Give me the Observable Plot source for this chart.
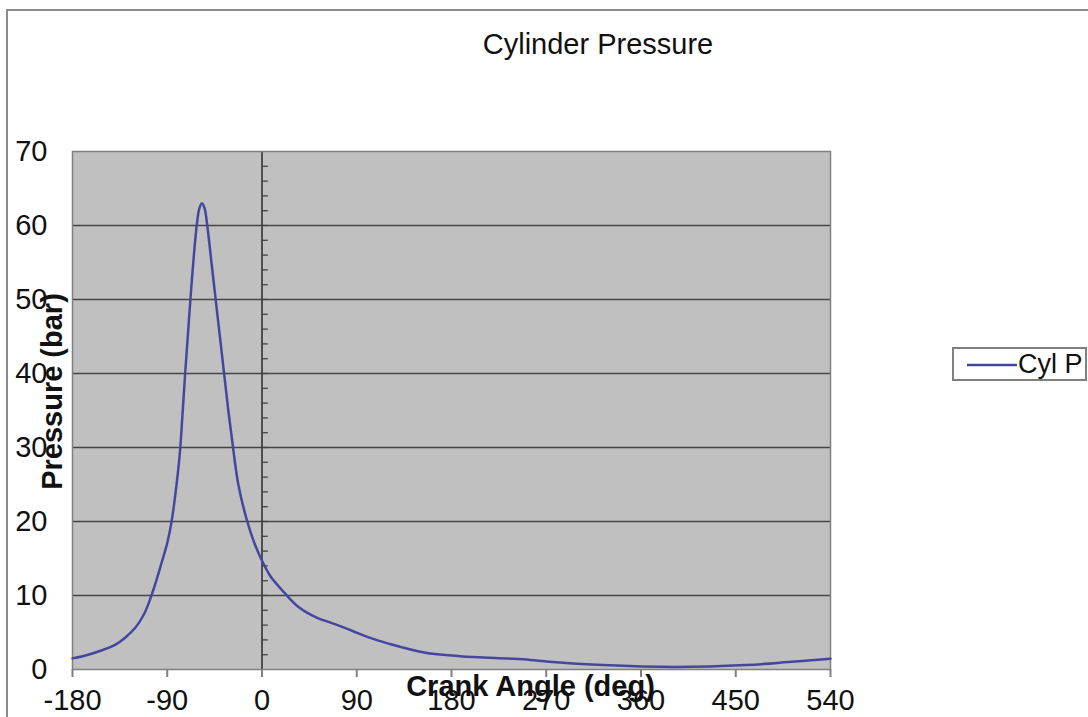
<!DOCTYPE html>
<html>
<head>
<meta charset="utf-8">
<script src="https://cdn.jsdelivr.net/npm/d3@7"></script>
<script src="https://cdn.jsdelivr.net/npm/@observablehq/plot@0.6"></script>
<style>
  html, body { margin: 0; padding: 0; background: #fff; }
  #wrap { position: relative; width: 1088px; height: 717px; overflow: hidden; font-family: "Liberation Sans", Arial, sans-serif; color: #111; }
  #border { position: absolute; left: 6px; top: 9px; width: 1200px; height: 800px; border-left: 2px solid #8a8a8a; border-top: 2px solid #8a8a8a; }
  #chart { position: absolute; left: 0; top: 0; }
  #legend { position: absolute; left: 952px; top: 347px; width: 131px; height: 30px; border: 2px solid #808080; background: #fff; }
  #legend svg { position: absolute; left: 0; top: 0; }
  #legend span { position: absolute; left: 64px; top: 0px; font-size: 27px; line-height: 30px; color: #111; white-space: nowrap; }
</style>
</head>
<body>
<div id="wrap">
  <div id="border"></div>
  <div id="chart"></div>
  <div id="legend">
    <svg width="64" height="30"><line x1="13" x2="63" y1="16" y2="16" stroke="#4646a0" stroke-width="2.5"></line></svg>
    <span id="legendLabel"></span>
  </div>
</div>
<script>
// ---- data ----
const titleText = "Cylinder Pressure";
const xLabel = "Crank Angle (deg)";
const yLabel = "Pressure (bar)";
const seriesName = "Cyl P";
const crankAngle = [-180, -165, -150, -140, -130, -120, -112, -106, -100, -95, -90, -86, -82, -78, -75.5, -73, -70.5, -68, -65, -62, -59.5, -57, -54.5, -52, -48, -44, -40, -36, -32, -27.5, -22.5, -14, -7, 0, 8, 18, 35, 52, 70, 86, 100, 120, 154, 188, 239, 255, 273, 324, 392, 460, 500, 540];
const pressure   = [1.5, 2.0, 2.7, 3.3, 4.3, 5.7, 7.5, 9.6, 12.2, 14.6, 17.1, 19.9, 24.0, 29.3, 34.5, 40, 45, 50, 55.5, 60, 62.3, 63, 62.3, 60, 55, 50, 45, 40, 35, 30, 25, 20, 17, 14.7, 12.6, 10.9, 8.4, 7.0, 6.1, 5.2, 4.4, 3.5, 2.3, 1.8, 1.45, 1.3, 1.05, 0.6, 0.35, 0.6, 1.0, 1.45];
const xTicks = [-180, -90, 0, 90, 180, 270, 360, 450, 540];
const yTicks = [0, 10, 20, 30, 40, 50, 60, 70];
const yGrid = [10, 20, 30, 40, 50, 60];
const yMinor = d3.range(2, 70, 2);

const data = crankAngle.map((a, i) => ({angle: a, p: pressure[i]}));

document.getElementById("legendLabel").textContent = seriesName;

const chart = Plot.plot({
  width: 1088,
  height: 717,
  marginLeft: 72,
  marginRight: 258,
  marginTop: 151,
  marginBottom: 48,
  style: {fontFamily: "'Liberation Sans', Arial, sans-serif", background: "transparent", color: "#111", overflow: "visible"},
  x: {domain: [-180, 540]},
  y: {domain: [0, 70]},
  marks: [
    Plot.frame({fill: "#c0c0c0"}),
    Plot.ruleY(yGrid, {stroke: "#454545", strokeWidth: 1.6}),
    Plot.ruleX([0], {stroke: "#333", strokeWidth: 1.6}),
    Plot.ruleY(yMinor, {y: d => d, x1: 0, x2: 6, stroke: "#444", strokeWidth: 1.3}),
    Plot.frame({stroke: "#808080", strokeWidth: 1.5}),
    Plot.line(data, {x: "angle", y: "p", stroke: "#4646a0", strokeWidth: 2.5, curve: "catmull-rom"}),
    Plot.axisX({ticks: xTicks, tickFormat: d => String(d), tickSize: 8, tickPadding: 12, fontSize: 29, label: null, stroke: "#808080", strokeWidth: 2}),
    Plot.axisY({ticks: yTicks, tickFormat: d => String(d), tickSize: 0, tickPadding: 25, fontSize: 29, label: null}),
    Plot.text([titleText], {frameAnchor: "top", textAnchor: "middle", lineAnchor: "middle", dx: 146.5, dy: -107, fontSize: 29, fill: "#111"}),
    Plot.text([xLabel], {frameAnchor: "bottom", textAnchor: "middle", lineAnchor: "middle", dx: 79, dy: 17, fontSize: 29, fontWeight: "bold", fill: "#111"}),
    Plot.text([yLabel], {frameAnchor: "left", textAnchor: "middle", lineAnchor: "middle", dx: -19.5, dy: -19, rotate: -90, fontSize: 29, fontWeight: "bold", fill: "#111"})
  ]
});
document.getElementById("chart").appendChild(chart);
</script>
</body>
</html>
